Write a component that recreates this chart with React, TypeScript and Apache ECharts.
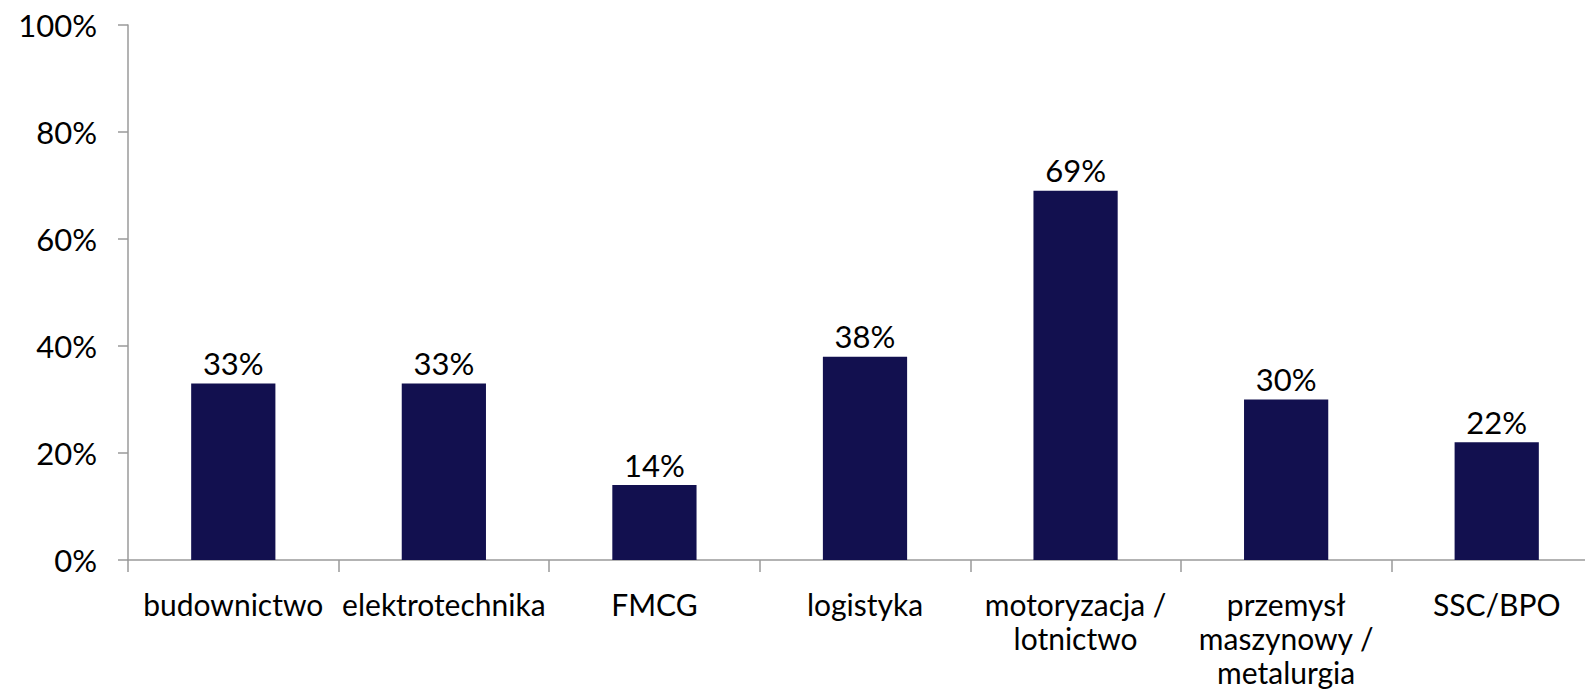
import React, { useEffect, useRef } from "react";
import * as echarts from "echarts";

const categories = [
  "budownictwo",
  "elektrotechnika",
  "FMCG",
  "logistyka",
  "motoryzacja /\nlotnictwo",
  "przemysł\nmaszynowy /\nmetalurgia",
  "SSC/BPO",
];
const values = [33, 33, 14, 38, 69, 30, 22];
const yTicks = [0, 20, 40, 60, 80, 100];

export default function App() {
  const ref = useRef<HTMLDivElement>(null);
  useEffect(() => {
    document.body.style.margin = "0";
    document.body.style.overflow = "hidden";
    const chart = echarts.init(ref.current!, null, { renderer: "svg" });
    const font = "Lato, 'DejaVu Sans', sans-serif";
    chart.setOption({
      animation: false,
      grid: {
        left: 128,
        top: 25,
        bottom: 131,
        width: 1474,
        containLabel: false,
        outerBoundsMode: "none",
      },
      xAxis: {
        type: "category",
        data: categories,
        boundaryGap: true,
        axisLine: { lineStyle: { color: "#9a9a9a", width: 1.5 } },
        axisTick: { show: true, length: 12, lineStyle: { color: "#9a9a9a", width: 1.5 } },
        axisLabel: {
          interval: 0,
          margin: 27,
          color: "#000",
          fontFamily: font,
          fontSize: 30,
          lineHeight: 34,
          align: "center",
        },
      },
      yAxis: {
        type: "value",
        min: yTicks[0],
        max: yTicks[yTicks.length - 1],
        interval: 20,
        splitLine: { show: false },
        axisLine: { show: true, lineStyle: { color: "#9a9a9a", width: 1.5 } },
        axisTick: { show: true, length: 10, lineStyle: { color: "#9a9a9a", width: 1.5 } },
        axisLabel: {
          margin: 31,
          color: "#000",
          fontFamily: font,
          fontSize: 31,
          formatter: (v: number) => v + "%",
        },
      },
      series: [
        {
          type: "bar",
          data: values,
          barWidth: "40%",
          itemStyle: { color: "#12104F" },
          label: {
            show: true,
            position: "top",
            distance: 5,
            color: "#000",
            fontFamily: font,
            fontSize: 31,
            formatter: (p: any) => p.value + "%",
          },
        },
      ],
    });
    return () => chart.dispose();
  }, []);
  return <div ref={ref} style={{ width: 1585, height: 691 }} />;
}
